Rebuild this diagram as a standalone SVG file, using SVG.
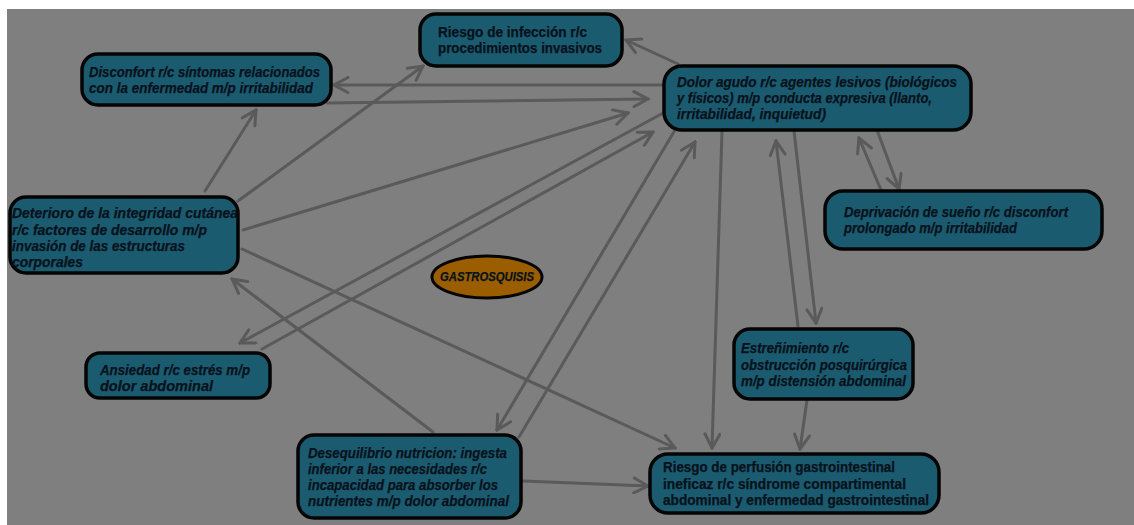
<svg xmlns="http://www.w3.org/2000/svg" width="1134" height="525" viewBox="0 0 1134 525">
<style>
.bg{fill:#7f7f7f}
.box{fill:#1b5b6f;stroke:#050505;stroke-width:3.5}
.t{font-family:"Liberation Sans",Arial,sans-serif;font-size:14px;font-weight:bold;fill:#08121c;stroke:#08121c;stroke-width:0.25}
.i{font-style:italic}
.c{fill:none;stroke:#5a5a5a;stroke-width:3;stroke-linecap:round}
</style>
<defs>
<marker id="ah" markerUnits="userSpaceOnUse" viewBox="0 0 18 18" markerWidth="18" markerHeight="18" refX="16" refY="9" orient="auto">
<path d="M2,1.5 L16,9 L2,16.5" fill="none" stroke="#5a5a5a" stroke-width="3" stroke-linecap="round" stroke-linejoin="miter"/>
</marker>
</defs>
<rect width="1134" height="525" fill="#ffffff"/>
<rect class="bg" x="7" y="9" width="1127" height="516"/>

<g id="connectors">
<line class="c" x1="678" y1="64" x2="626" y2="40" marker-end="url(#ah)"/>
<line class="c" x1="664" y1="85" x2="334" y2="85" marker-end="url(#ah)"/>
<line class="c" x1="327" y1="103" x2="648" y2="99" marker-end="url(#ah)"/>
<line class="c" x1="238" y1="201" x2="423" y2="66" marker-end="url(#ah)"/>
<line class="c" x1="205" y1="191" x2="256" y2="110" marker-end="url(#ah)"/>
<line class="c" x1="243" y1="230" x2="628" y2="113" marker-end="url(#ah)"/>
<line class="c" x1="665" y1="112" x2="240" y2="343" marker-end="url(#ah)"/>
<line class="c" x1="262" y1="349" x2="653" y2="132" marker-end="url(#ah)"/>
<line class="c" x1="242" y1="249" x2="675" y2="448" marker-end="url(#ah)"/>
<line class="c" x1="433" y1="432" x2="232" y2="279" marker-end="url(#ah)"/>
<line class="c" x1="675" y1="130" x2="497" y2="430" marker-end="url(#ah)"/>
<line class="c" x1="519" y1="437" x2="695" y2="142" marker-end="url(#ah)"/>
<line class="c" x1="722" y1="131" x2="712" y2="448" marker-end="url(#ah)"/>
<line class="c" x1="798" y1="326" x2="776" y2="141" marker-end="url(#ah)"/>
<line class="c" x1="794" y1="131" x2="816" y2="323" marker-end="url(#ah)"/>
<line class="c" x1="877" y1="130" x2="899" y2="189" marker-end="url(#ah)"/>
<line class="c" x1="881" y1="190" x2="859" y2="138" marker-end="url(#ah)"/>
<line class="c" x1="807" y1="400" x2="800" y2="449" marker-end="url(#ah)"/>
<line class="c" x1="523" y1="481" x2="648" y2="486" marker-end="url(#ah)"/>
</g>

<g id="n-disconfort">
<rect class="box" x="82" y="54" width="249" height="51" rx="16"/>
<text class="t i" x="89" y="77" textLength="231" lengthAdjust="spacingAndGlyphs">Disconfort r/c síntomas relacionados</text>
<text class="t i" x="89" y="93" textLength="224" lengthAdjust="spacingAndGlyphs">con la enfermedad m/p irritabilidad</text>
</g>

<g id="n-infeccion">
<rect class="box" x="420" y="14" width="202" height="52" rx="16"/>
<text class="t" x="438" y="37" textLength="149" lengthAdjust="spacingAndGlyphs">Riesgo de infección r/c</text>
<text class="t" x="438" y="53" textLength="164" lengthAdjust="spacingAndGlyphs">procedimientos invasivos</text>
</g>

<g id="n-dolor">
<rect class="box" x="664" y="66" width="307" height="64" rx="18"/>
<text class="t i" x="677" y="87" textLength="280" lengthAdjust="spacingAndGlyphs">Dolor agudo r/c agentes lesivos (biológicos</text>
<text class="t i" x="677" y="103" textLength="255" lengthAdjust="spacingAndGlyphs">y físicos) m/p conducta expresiva (llanto,</text>
<text class="t i" x="677" y="119" textLength="149" lengthAdjust="spacingAndGlyphs">irritabilidad, inquietud)</text>
</g>

<g id="n-deprivacion">
<rect class="box" x="825" y="191" width="277" height="58" rx="18"/>
<text class="t i" x="844" y="217" textLength="224" lengthAdjust="spacingAndGlyphs">Deprivación de sueño r/c disconfort</text>
<text class="t i" x="844" y="233" textLength="173" lengthAdjust="spacingAndGlyphs">prolongado m/p irritabilidad</text>
</g>

<g id="n-deterioro">
<rect class="box" x="10" y="197" width="228" height="76" rx="16"/>
<text class="t i" x="12" y="218" textLength="226" lengthAdjust="spacingAndGlyphs">Deterioro de la integridad cutánea</text>
<text class="t i" x="12" y="235" textLength="195" lengthAdjust="spacingAndGlyphs">r/c factores de desarrollo m/p</text>
<text class="t i" x="12" y="251" textLength="173" lengthAdjust="spacingAndGlyphs">invasión de las estructuras</text>
<text class="t i" x="12" y="267" textLength="71" lengthAdjust="spacingAndGlyphs">corporales</text>
</g>

<g id="n-ansiedad">
<rect class="box" x="86" y="353" width="184" height="45" rx="14"/>
<text class="t i" x="100" y="375" textLength="150" lengthAdjust="spacingAndGlyphs">Ansiedad r/c estrés m/p</text>
<text class="t i" x="100" y="391" textLength="113" lengthAdjust="spacingAndGlyphs">dolor abdominal</text>
</g>

<g id="n-gastrosquisis">
<ellipse cx="487" cy="277" rx="55" ry="21" fill="#9a5e00" stroke="#050505" stroke-width="3"/>
<text class="t i" x="487" y="281" text-anchor="middle" style="font-size:12px" textLength="94" lengthAdjust="spacingAndGlyphs">GASTROSQUISIS</text>
</g>

<g id="n-desequilibrio">
<rect class="box" x="298" y="435" width="223" height="83" rx="16"/>
<text class="t i" x="308" y="458" textLength="199" lengthAdjust="spacingAndGlyphs">Desequilibrio nutricion: ingesta</text>
<text class="t i" x="308" y="474" textLength="179" lengthAdjust="spacingAndGlyphs">inferior a las necesidades r/c</text>
<text class="t i" x="308" y="490" textLength="190" lengthAdjust="spacingAndGlyphs">incapacidad para absorber los</text>
<text class="t i" x="308" y="506" textLength="201" lengthAdjust="spacingAndGlyphs">nutrientes m/p dolor abdominal</text>
</g>

<g id="n-estrenimiento">
<rect class="box" x="734" y="329" width="179" height="70" rx="16"/>
<text class="t i" x="741" y="353" textLength="108" lengthAdjust="spacingAndGlyphs">Estreñimiento r/c</text>
<text class="t i" x="741" y="370" textLength="166" lengthAdjust="spacingAndGlyphs">obstrucción posquirúrgica</text>
<text class="t i" x="741" y="386" textLength="165" lengthAdjust="spacingAndGlyphs">m/p distensión abdominal</text>
</g>

<g id="n-perfusion">
<rect class="box" x="650" y="454" width="289" height="59" rx="18"/>
<text class="t" x="663" y="472" textLength="232" lengthAdjust="spacingAndGlyphs">Riesgo de perfusión gastrointestinal</text>
<text class="t" x="663" y="489" textLength="243" lengthAdjust="spacingAndGlyphs">ineficaz r/c síndrome compartimental</text>
<text class="t" x="663" y="505" textLength="266" lengthAdjust="spacingAndGlyphs">abdominal y enfermedad gastrointestinal</text>
</g>
</svg>
